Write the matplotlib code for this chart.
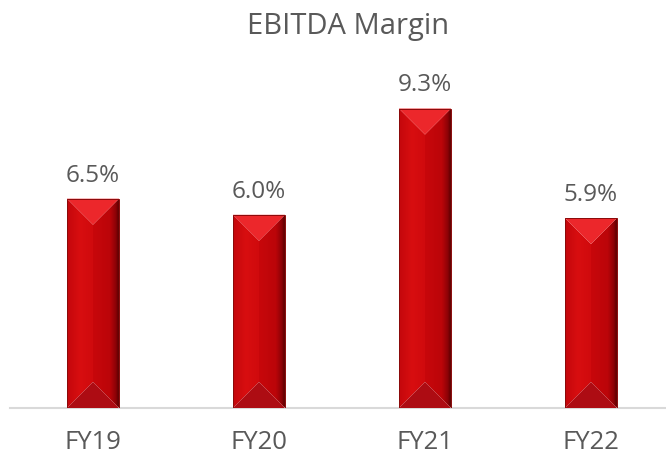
import numpy as np
import matplotlib.pyplot as plt
from matplotlib.patches import Polygon
from matplotlib.colors import LinearSegmentedColormap

# chart data
years = ['FY19', 'FY20', 'FY21', 'FY22']
margin = [6.5, 6.0, 9.3, 5.9]
labels = ['6.5%', '6.0%', '9.3%', '5.9%']

plt.rcParams['font.family'] = ['Open Sans', 'DejaVu Sans']
grey = '#595959'

fig = plt.figure(figsize=(6.66, 4.56), dpi=100)
ax = fig.add_axes([10 / 666, 47 / 456, 656 / 666, 322 / 456])
ax.set_xlim(-0.5, -0.5 + 656 / 166)
ax.set_ylim(0, 10)

w = 0.313
x = np.arange(len(years))
bars = ax.bar(x, margin, width=w, color='#c8080e', zorder=2)

# pixel scale, to get a 45 degree bevel
sx = 656 / (ax.get_xlim()[1] - ax.get_xlim()[0])
sy = 322 / (ax.get_ylim()[1] - ax.get_ylim()[0])
d = (w / 2) * sx / sy

left_cmap = LinearSegmentedColormap.from_list('l', ['#c4070c', '#d80e10', '#d00a0d'])
right_cmap = LinearSegmentedColormap.from_list(
    'r', [(0, '#c8070b'), (0.65, '#bb0509'), (0.88, '#8e0207'), (1, '#5c0000')])
grad = np.linspace(0, 1, 64).reshape(1, -1)

for b, v in zip(bars, margin):
    x0 = b.get_x()
    x1 = x0 + b.get_width()
    xc = (x0 + x1) / 2
    b.set_visible(False)
    # left face
    lp = Polygon([(x0, 0), (xc, d), (xc, v - d), (x0, v)], closed=True,
                 facecolor='none', edgecolor='none')
    ax.add_patch(lp)
    im = ax.imshow(grad, cmap=left_cmap, extent=(x0, xc, 0, v), aspect='auto', zorder=2)
    im.set_clip_path(lp)
    # right face
    rp = Polygon([(x1, 0), (xc, d), (xc, v - d), (x1, v)], closed=True,
                 facecolor='none', edgecolor='none')
    ax.add_patch(rp)
    im = ax.imshow(grad, cmap=right_cmap, extent=(xc, x1, 0, v), aspect='auto', zorder=2)
    im.set_clip_path(rp)
    # top and bottom bevels
    ax.add_patch(Polygon([(x0, v), (x1, v), (xc, v - d)], closed=True,
                         facecolor='#ec272b', edgecolor='none', zorder=3))
    ax.add_patch(Polygon([(x0, 0), (x1, 0), (xc, d)], closed=True,
                         facecolor='#ad0c13', edgecolor='none', zorder=3))
    ax.add_patch(plt.Rectangle((x0, 0), x1 - x0, v, facecolor='none',
                               edgecolor='#8a0a0a', linewidth=0.7, zorder=4))

for xi, v, t in zip(x, margin, labels):
    ax.annotate(t, (xi, v), xytext=(0, 13), textcoords='offset points',
                ha='center', va='baseline', fontsize=17.5, color=grey)

ax.set_xticks(x)
ax.set_xticklabels(years, fontsize=18.5, color=grey)
for lbl in ax.get_xticklabels():
    lbl.set_va('baseline')
ax.tick_params(axis='x', length=0, pad=29)
ax.set_yticks([])
for s in ['top', 'right', 'left']:
    ax.spines[s].set_visible(False)
ax.spines['bottom'].set_color('#d9d9d9')
ax.spines['bottom'].set_linewidth(1.5)

fig.text(348 / 666, 1 - 34 / 456, 'EBITDA Margin', ha='center', va='baseline',
         fontsize=21, color=grey)

fig.savefig('out.png', dpi=100)
